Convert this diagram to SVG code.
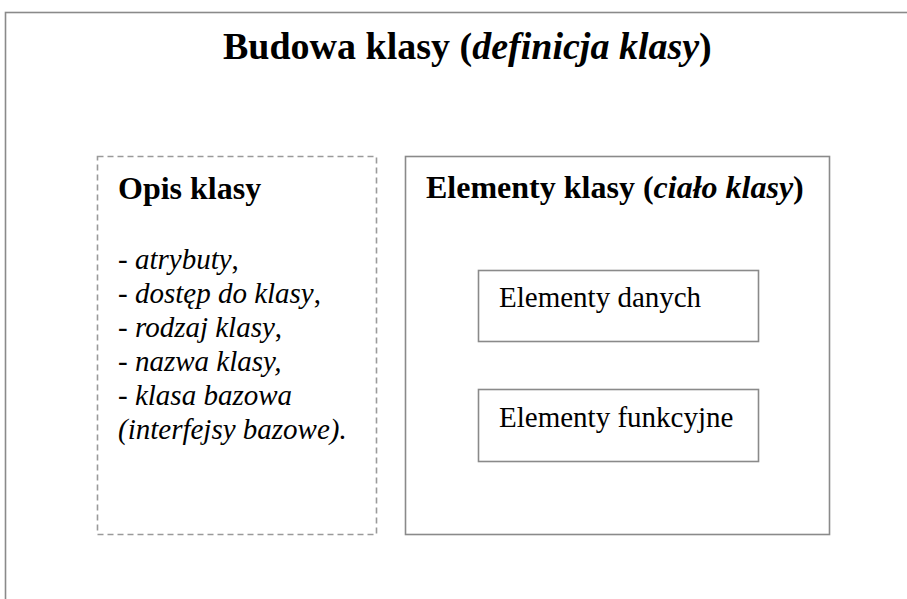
<svg xmlns="http://www.w3.org/2000/svg" width="907" height="599" viewBox="0 0 907 599">
<style>
.frame{fill:none;stroke:#8a8a8a;stroke-width:1.6}
.box{fill:#fff;stroke:#8a8a8a;stroke-width:1.6}
.dash{fill:#fff;stroke:#9a9a9a;stroke-width:1.6;stroke-dasharray:6 4}
</style>
<rect width="907" height="599" fill="#fff"/>
<rect class="frame" x="5.5" y="12.5" width="1000" height="1000"/>
<text x="223" y="59" font-family="Liberation Serif, serif" font-size="38" font-weight="bold">Budowa klasy (<tspan font-style="italic">definicja klasy</tspan>)</text>
<g id="opis">
<rect class="dash" x="97.5" y="156.5" width="279" height="378"/>
<text x="118" y="199" font-family="Liberation Serif, serif" font-size="32" font-weight="bold">Opis klasy</text>
<g font-family="Liberation Serif, serif" font-size="29">
<text x="118" y="269">- <tspan font-style="italic">atrybuty</tspan>,</text>
<text x="118" y="303">- <tspan font-style="italic">dostęp do klasy</tspan>,</text>
<text x="118" y="337">- <tspan font-style="italic">rodzaj klasy</tspan>,</text>
<text x="118" y="371">- <tspan font-style="italic">nazwa klasy,</tspan></text>
<text x="118" y="405">- <tspan font-style="italic">klasa bazowa</tspan></text>
<text x="118" y="439" font-style="italic">(interfejsy bazowe).</text>
</g>
</g>
<g id="elementy">
<rect class="box" x="405.5" y="156.5" width="424" height="378"/>
<text x="426" y="198" font-family="Liberation Serif, serif" font-size="32" font-weight="bold">Elementy klasy (<tspan font-style="italic">ciało klasy</tspan>)</text>
</g>
<g id="dane">
<rect class="box" x="478.5" y="270.5" width="280" height="71"/>
<text x="499" y="307" font-family="Liberation Serif, serif" font-size="29">Elementy danych</text>
</g>
<g id="funkcje">
<rect class="box" x="478.5" y="389.5" width="280" height="72"/>
<text x="499" y="427" font-family="Liberation Serif, serif" font-size="29">Elementy funkcyjne</text>
</g>
<g id="connectors"></g>
</svg>
